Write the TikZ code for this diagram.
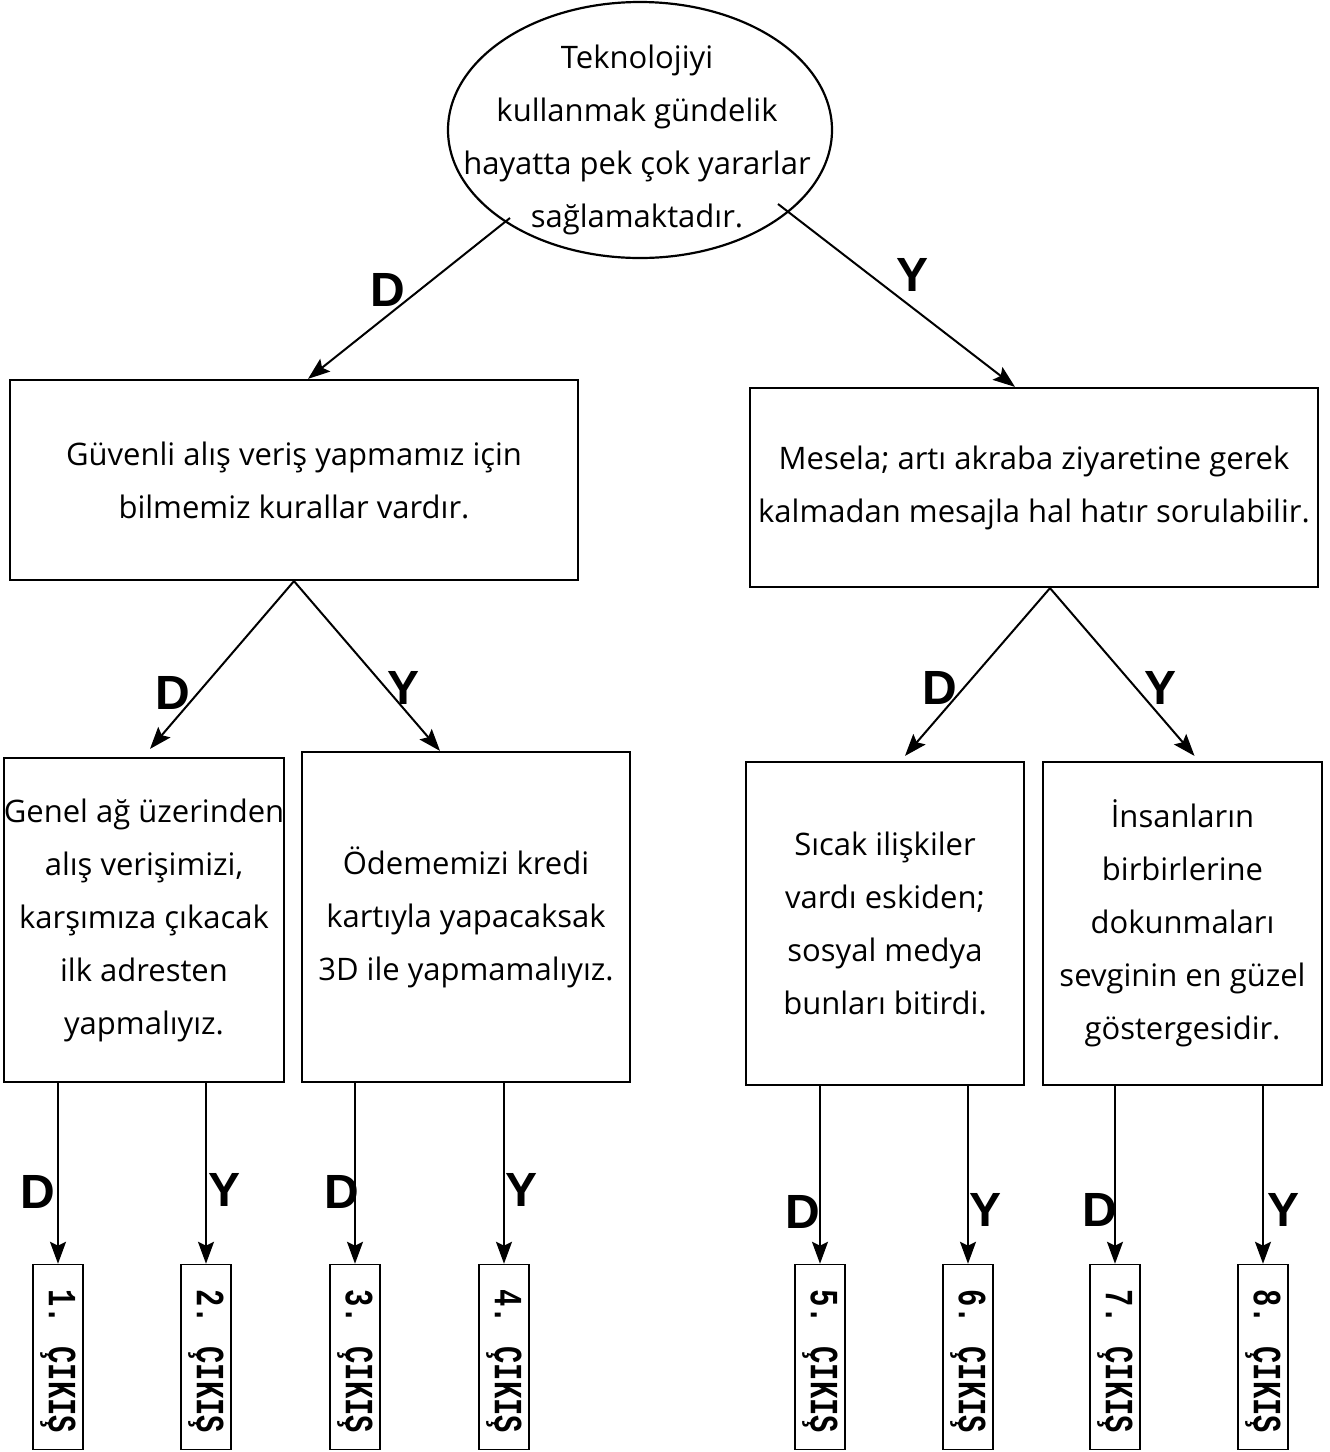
\documentclass[tikz,border=0pt]{standalone}
\usepackage{fontspec}
\setmainfont{Open Sans}
\newfontfamily\lblfont{Liberation Sans}
\newfontfamily\outfont{Liberation Mono}
\usetikzlibrary{arrows.meta,shapes.geometric,calc}
\begin{document}
\begin{tikzpicture}[x=1pt,y=-1pt,
  box/.style={draw,line width=2.2pt,inner sep=0pt,align=center,font=\fontsize{31}{53}\selectfont},
  txt/.style={align=center,font=\fontsize{31}{53}\selectfont},
  arr/.style={line width=2pt,-{Stealth[length=22pt,width=16pt,inset=4pt]}},
  yn/.style={font=\lblfont\bfseries\fontsize{48}{48}\selectfont},
  outbox/.style={draw,line width=1.5pt,minimum width=50pt,minimum height=185pt,inner sep=0pt},
  outtxt/.style={font=\outfont\bfseries\fontsize{40}{40}\selectfont,rotate=-90,inner sep=0pt}
]
\useasboundingbox (0,0) rectangle (1330,1452);
% top ellipse
\node[ellipse,draw,line width=2.2pt,minimum width=384pt,minimum height=256pt,inner sep=0pt] (top) at (640,130) {};
\node[txt] (toptext) at (637,140) {Teknolojiyi\\kullanmak gündelik\\hayatta pek çok yararlar\\sağlamaktadır.};
% level 1
\node[box,minimum width=568pt,minimum height=200pt] (b1) at (294,480) {Güvenli alış veriş yapmamız için\\bilmemiz kurallar vardır.};
\node[box,minimum width=568pt,minimum height=199pt] (b2) at (1034,487.5) {Mesela; artı akraba ziyaretine gerek\\kalmadan mesajla hal hatır sorulabilir.};
% level 2
\node[box,minimum width=278pt,minimum height=324pt] (b3) at (144,920) {Genel ağ üzerinden\\alış verişimizi,\\karşımıza çıkacak\\ilk adresten\\yapmalıyız.};
\node[box,minimum width=328pt,minimum height=330pt] (b4) at (466,917) {Ödememizi kredi\\kartıyla yapacaksak\\3D ile yapmamalıyız.};
\node[box,minimum width=278pt,minimum height=323pt] (b5) at (885,923.5) {Sıcak ilişkiler\\vardı eskiden;\\sosyal medya\\bunları bitirdi.};
\node[box,minimum width=279pt,minimum height=323pt] (b6) at (1182.5,923.5) {İnsanların\\birbirlerine\\dokunmaları\\sevginin en güzel\\göstergesidir.};
% outputs
\foreach \i/\x in {1/58,2/206,3/355,4/504,5/820,6/968,7/1115,8/1263}{
  \node[outbox] (o\i) at (\x,1357) {};
  \node[outtxt] (ot\i) at (\x,1361) {\scalebox{0.72}[1]{\i. ÇIKIŞ}};
}
% connectors top
\coordinate (tl) at (510,218);
\coordinate (tr) at (778,204);
\coordinate (e1) at ($(b1.north)+(14,0)$);
\coordinate (e2) at ($(b2.north)+(-19,0)$);
\draw[arr] (tl) -- (e1);
\draw[arr] (tr) -- (e2);
\coordinate (e3) at ($(b3.north)+(6,-8)$);
\coordinate (e4) at ($(b4.north)+(-26,0)$);
\coordinate (e5) at ($(b5.north)+(20,-5)$);
\coordinate (e6) at ($(b6.north)+(12,-5)$);
\draw[arr] (b1.south) -- (e3);
\draw[arr] (b1.south) -- (e4);
\draw[arr] ($(b2.south)+(16,0)$) -- (e5);
\draw[arr] ($(b2.south)+(16,0)$) -- (e6);
% vertical
\foreach \i/\b in {1/b3,2/b3,3/b4,4/b4,5/b5,6/b5,7/b6,8/b6}{
  \draw[arr] (o\i.north |- \b.south) -- (o\i.north);
}
% labels
\node[yn] (l1) at (388,290) {D};
\node[yn] (l2) at (912,275) {Y};
\node[yn] (l3) at (173,693) {D};
\node[yn] (l4) at (404,688) {Y};
\node[yn] (l5) at (940,688) {D};
\node[yn] (l6) at (1160,688) {Y};
\node[yn] (l7) at (38,1192) {D};
\node[yn] (l8) at (225,1190) {Y};
\node[yn] (l9) at (342,1192) {D};
\node[yn] (l10) at (522,1190) {Y};
\node[yn] (l11) at (803,1212) {D};
\node[yn] (l12) at (985,1210) {Y};
\node[yn] (l13) at (1100,1210) {D};
\node[yn] (l14) at (1283,1210) {Y};
\end{tikzpicture}
\end{document}
